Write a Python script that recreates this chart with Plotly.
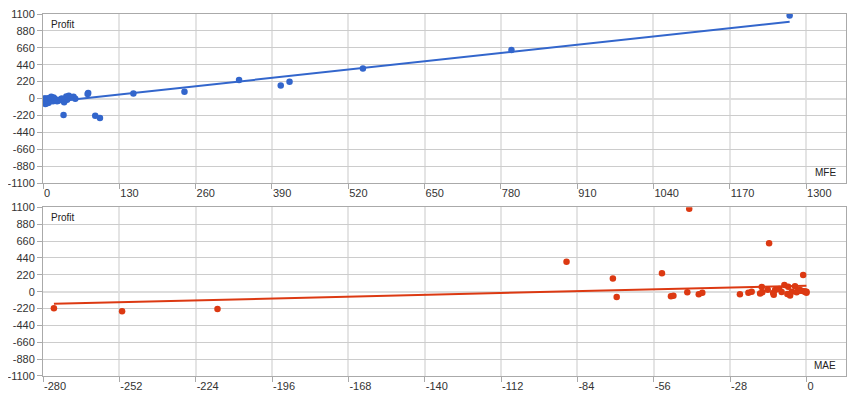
import plotly.graph_objects as go
import numpy as np

# one entry per trade: max favourable / adverse excursion and result
mfe = [1272, 798, 545, 420, 405, 334, 241, 154, 77, 76,
       35, 89, 97, 3.9, 6.8, 9.6, 12.4, 17, 21, 24,
       29.5, 32, 35, 39.7, 41, 52, 55, 2, 5, 14,
       8, 1, 4, 10, 18, 26, 44, 47, 0.5, 3, 36, 20]
mae = [-43, -13.7, -88, -1.2, -71, -53, -8.1, -6.7, -4.2, -16.4,
       -276, -216, -251, -69.6, -49.7, -48.8, -43.7, -39.5, -38.2, -24.4,
       -21.3, -20.1, -16.2, -14.2, -12.2, -11.5, -9.1, -5.4, -3.6, -2.4,
       -0.5, 0, 0, -1, -2, -7, -10, -3, -12, -17, -6, -0.3]
profit = [1080, 630, 390, 218, 170, 240, 87, 65, 72, 60,
          -215, -225, -255, -70, -60, -55, -8, -34, -13, -34,
          -13, 0, -8, 26, -17, 22, -4, 0, -8, 22,
          0, -13, 0, 5, 13, -30, 35, 13, -40, -25, -50, -2]

profit_ticks = [-1100, -880, -660, -440, -220, 0, 220, 440, 660, 880, 1100]
mfe_ticks = [0, 130, 260, 390, 520, 650, 780, 910, 1040, 1170, 1300]
mae_ticks = [-280, -252, -224, -196, -168, -140, -112, -84, -56, -28, 0]

blue = "#3366cc"
red = "#dc3912"

fig = go.Figure()

for xs, color, xa, ya in [(mfe, blue, "x", "y"), (mae, red, "x2", "y2")]:
    fig.add_trace(go.Scatter(
        x=xs, y=profit, mode="markers", xaxis=xa, yaxis=ya,
        marker=dict(color=color, size=6.5), showlegend=False, hoverinfo="x+y"
    ))
    # linear trend line
    k, b = np.polyfit(xs, profit, 1)
    xl = np.array([min(xs), max(xs)])
    fig.add_trace(go.Scatter(
        x=xl, y=k * xl + b, mode="lines", xaxis=xa, yaxis=ya,
        line=dict(color=color, width=2), showlegend=False, hoverinfo="skip"
    ))

axis_common = dict(
    showline=True, mirror=True, linecolor="#aaaaaa", linewidth=1,
    ticks="outside", ticklen=5, tickcolor="#aaaaaa", automargin=False,
    ticklabeloverflow="allow", tickfont=dict(size=11, color="#333333"),
)
x_common = dict(gridcolor="#e4e4e4", gridwidth=2, zeroline=False,
                ticklabelposition="outside right", **axis_common)
y_common = dict(range=[-1100, 1100], tickvals=profit_ticks,
                ticktext=[str(v) for v in profit_ticks],
                gridcolor="#cccccc", gridwidth=1,
                zeroline=True, zerolinecolor="#dddddd", zerolinewidth=2, **axis_common)

# the page body adds 8px, so the figure is a little smaller than the window
fig.update_layout(
    width=852, height=392,
    margin=dict(l=35, r=14, t=6, b=24),
    paper_bgcolor="white", plot_bgcolor="white",
    font=dict(family="Liberation Sans, Arial", size=11, color="#333333"),
    xaxis=dict(domain=[0, 1], anchor="y", range=[0, 1368], tickvals=mfe_ticks,
               ticktext=[str(v) for v in mfe_ticks], **x_common),
    yaxis=dict(domain=[0.533, 1], anchor="x", **y_common),
    xaxis2=dict(domain=[0, 1], anchor="y2", range=[-280, 14.5], tickvals=mae_ticks,
                ticktext=[str(v) for v in mae_ticks], **x_common),
    yaxis2=dict(domain=[0, 0.466], anchor="x2", **y_common),
    annotations=[
        dict(text="Profit", xref="x domain", yref="y domain", x=0.008, y=0.985,
             xanchor="left", yanchor="top", showarrow=False, font=dict(size=10, color="#222")),
        dict(text="MFE", xref="x domain", yref="y domain", x=0.99, y=0.02,
             xanchor="right", yanchor="bottom", showarrow=False, font=dict(size=10, color="#222")),
        dict(text="Profit", xref="x2 domain", yref="y2 domain", x=0.008, y=0.985,
             xanchor="left", yanchor="top", showarrow=False, font=dict(size=10, color="#222")),
        dict(text="MAE", xref="x2 domain", yref="y2 domain", x=0.99, y=0.02,
             xanchor="right", yanchor="bottom", showarrow=False, font=dict(size=10, color="#222")),
    ],
)

fig.write_html("out.html")
